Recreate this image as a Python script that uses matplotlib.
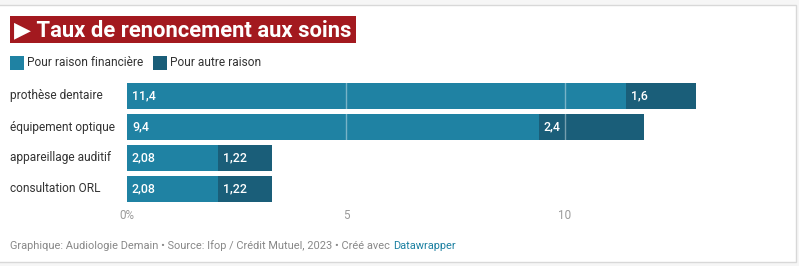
import matplotlib
matplotlib.use("Agg")
import matplotlib.pyplot as plt
from matplotlib.patches import Rectangle

categories = ["prothèse dentaire", "équipement optique", "appareillage auditif", "consultation ORL"]
financial = [11.4, 9.4, 2.08, 2.08]
other = [1.6, 2.4, 1.22, 1.22]
series_names = ["Pour raison financière", "Pour autre raison"]
xticks = [0, 5, 10]
xtick_labels = ["0%", "5", "10"]

C_FIN = "#1f82a3"
C_OTH = "#1a5e79"
W, H = 799, 266

plt.rcParams["font.family"] = ["Roboto", "DejaVu Sans"]
fig = plt.figure(figsize=(W / 100, H / 100), dpi=100)

def fx(px):
    return px / W

def fy(py):
    return 1 - py / H

# frame
fig.patches.append(Rectangle((fx(796), 0), 1 - fx(796), 1, transform=fig.transFigure,
                             facecolor="#f6f6f6", edgecolor="none", zorder=0))
fig.patches.append(Rectangle((0, fy(5)), 1, 1 - fy(5), transform=fig.transFigure,
                             facecolor="#f6f6f6", edgecolor="none", zorder=0))
fig.patches.append(Rectangle((0, 0), 1, fy(262), transform=fig.transFigure,
                             facecolor="#f6f6f6", edgecolor="none", zorder=0))
fig.patches.append(Rectangle((fx(-2), fy(262)), fx(798), fy(5) - fy(262), transform=fig.transFigure,
                             facecolor="white", edgecolor="#d8d8d8", linewidth=1, zorder=0.5))

# title
fig.patches.append(Rectangle((fx(10), fy(43)), fx(346), fy(16) - fy(43), transform=fig.transFigure,
                             facecolor="#a3191f", edgecolor="none", zorder=1))
fig.text(fx(14), fy(30), "▶ Taux de renoncement aux soins", color="white", fontsize=15.8,
         fontweight="bold", va="center", ha="left", zorder=2,
         family=["Roboto", "DejaVu Sans"])

# legend
for i, (name, col, x0) in enumerate(zip(series_names, [C_FIN, C_OTH], [10, 153])):
    fig.patches.append(Rectangle((fx(x0), fy(70)), fx(14), fy(56) - fy(70), transform=fig.transFigure,
                                 facecolor=col, edgecolor="none", zorder=1))
    fig.text(fx(x0 + 17), fy(63), name, color="#333333", fontsize=8.6, va="center", ha="left")

# axes
px_per_unit = 43.8
xmax = 13.5
ax = fig.add_axes([fx(127), fy(204.5), fx(xmax * px_per_unit), (204.5 - 80.5) / H])
ax.set_zorder(5)
ax.set_xlim(0, xmax)
ax.set_ylim(len(categories) - 0.5, -0.5)
ax.patch.set_alpha(0)
for s in ax.spines.values():
    s.set_visible(False)

y = list(range(len(categories)))
ax.barh(y, financial, height=0.84, color=C_FIN, zorder=2)
ax.barh(y, other, left=financial, height=0.84, color=C_OTH, zorder=2)
for xv in xticks[1:]:
    ax.axvline(xv, color="white", alpha=0.4, linewidth=1, zorder=3)

off = 5 / px_per_unit
for yi, f, o in zip(y, financial, other):
    ax.text(off, yi, f"{f:g}".replace(".", ","), color="white", fontsize=8.9,
            fontweight="medium", va="center", ha="left", zorder=4)
    ax.text(f + off, yi, f"{o:g}".replace(".", ","), color="white", fontsize=8.9,
            fontweight="medium", va="center", ha="left", zorder=4)

ax.set_yticks([])
ax.set_xticks(xticks)
ax.set_xticklabels(xtick_labels, color="#9a9a9a", fontsize=8.4)
ax.tick_params(axis="x", length=0, pad=3)

# category labels
for yi, cat in zip(y, categories):
    fig.text(fx(10), fy(96 + 31 * yi), cat, color="#333333", fontsize=8.6, va="center", ha="left")

# footer
t1 = fig.text(fx(10), fy(246), "Graphique: Audiologie Demain • Source: Ifop / Crédit Mutuel, 2023 • Créé avec ",
              color="#888888", fontsize=7.9, va="center", ha="left")
fig.canvas.draw()
bb = t1.get_window_extent()
fig.text(bb.x1 / W, fy(246), "Datawrapper", color="#1d81a2", fontsize=7.9, va="center", ha="left")

fig.savefig("out.png", dpi=100)
